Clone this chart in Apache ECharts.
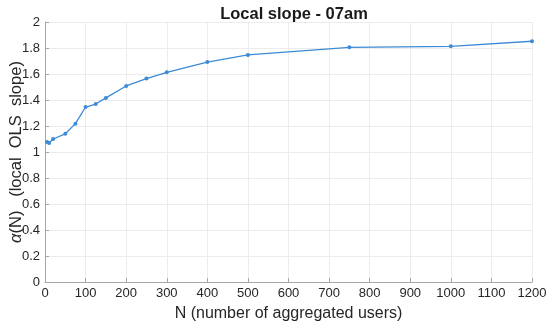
<!DOCTYPE html>
<html><head><meta charset="utf-8">
<script src="https://cdn.jsdelivr.net/npm/echarts@6/dist/echarts.min.js"></script>
<style>html,body{margin:0;padding:0;background:#fff}#c{width:550px;height:322px}</style>
</head><body><div id="c"></div>
<script>
var nValues = [5, 10, 20, 50, 75, 100, 125, 150, 200, 250, 300, 400, 500, 750, 1000, 1200];
var slopeValues = [1.077, 1.069, 1.10, 1.14, 1.218, 1.346, 1.369, 1.416, 1.508, 1.565, 1.613, 1.692, 1.747, 1.805, 1.813, 1.852];
var titleText = 'Local slope - 07am';
var xName = 'N (number of aggregated users)';

var chart = echarts.init(document.getElementById('c'), null, {renderer: 'canvas'});
var pts = nValues.map(function (n, i) { return [n, slopeValues[i]]; });
var txt = '#262626';
var ff = 'Arial, Liberation Sans';
chart.setOption({
  animation: false,
  title: {text: titleText, left: 289, top: 1, textAlign: 'center',
    textStyle: {fontFamily: ff, fontSize: 16.5, fontWeight: 'bold', color: '#1a1a1a'}},
  grid: {left: 45, right: 18, top: 22, bottom: 40, containLabel: false, outerBoundsMode: 'none'},
  xAxis: {type: 'value', min: 0, max: 1200, interval: 100,
    name: xName, nameLocation: 'middle', nameGap: 24, nameMoveOverlap: false,
    nameTextStyle: {fontFamily: ff, fontSize: 16, color: txt},
    axisLine: {show: true, lineStyle: {color: '#a6a6a6', width: 1}},
    axisTick: {show: true, inside: true, length: 4, lineStyle: {color: '#a6a6a6'}},
    axisLabel: {fontFamily: ff, fontSize: 13, color: txt, margin: 5,
      formatter: function (v) { return String(v); }},
    splitLine: {show: true, lineStyle: {color: '#ececec', width: 1}}},
  yAxis: {type: 'value', min: 0, max: 2, interval: 0.2,
    name: '{a|α}(N)   (local  OLS  slope)', nameLocation: 'middle', nameGap: 20, nameRotate: 90,
    nameMoveOverlap: false,
    nameTextStyle: {fontFamily: ff, fontSize: 16.5, color: txt,
      rich: {a: {fontFamily: ff, fontSize: 16.5, fontStyle: 'italic', color: txt}}},
    axisLine: {show: true, lineStyle: {color: '#a6a6a6', width: 1}},
    axisTick: {show: true, inside: true, length: 4, lineStyle: {color: '#a6a6a6'}},
    axisLabel: {fontFamily: ff, fontSize: 13, color: txt, margin: 5,
      formatter: function (v) { return String(Math.round(v * 10) / 10); }},
    splitLine: {show: true, lineStyle: {color: '#ececec', width: 1}}},
  series: [{type: 'line', data: pts, symbol: 'circle', symbolSize: 4, showSymbol: true,
    lineStyle: {color: '#3d8ad6', width: 1.3}, itemStyle: {color: '#3d8ad6'}}]
});
</script></body></html>
